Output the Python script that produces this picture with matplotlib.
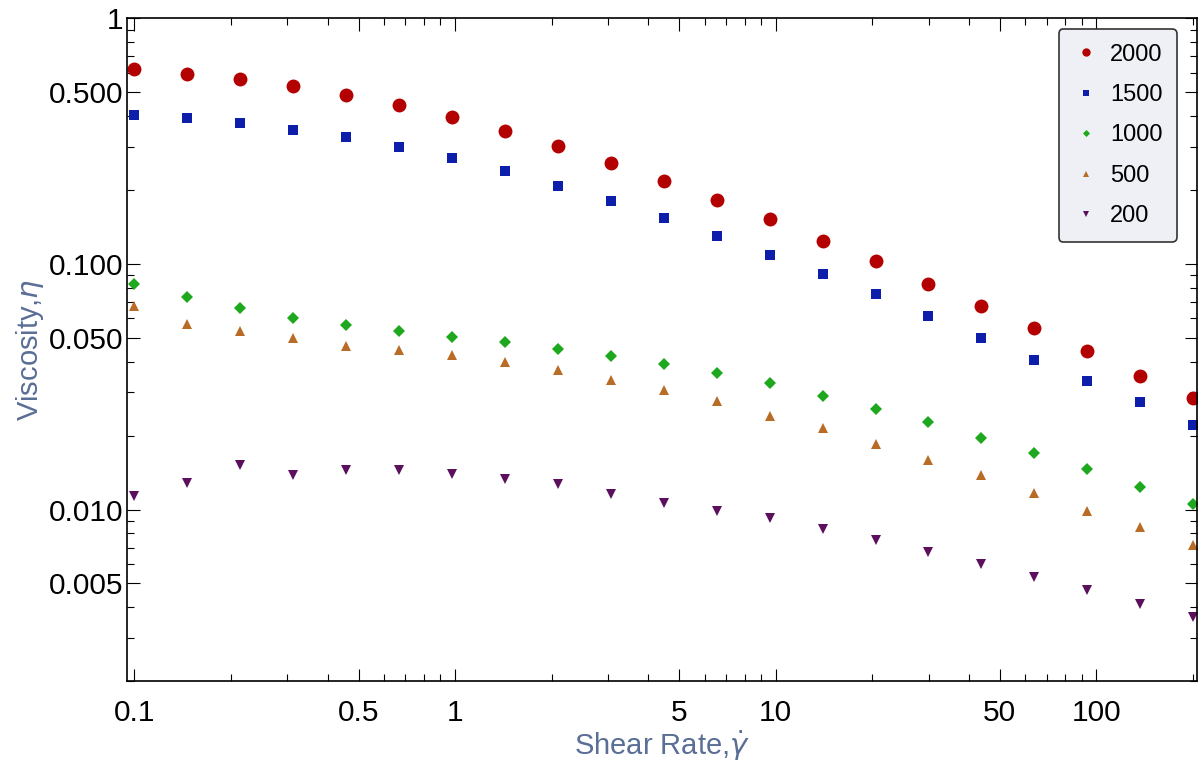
import matplotlib
matplotlib.use("Agg")
import matplotlib.pyplot as plt
from matplotlib.ticker import LogLocator, NullFormatter

plt.rcParams['font.family'] = ['Liberation Sans', 'DejaVu Sans']
plt.rcParams['mathtext.fontset'] = 'dejavusans'

# shear rate grid (log spaced from 0.1 to 200)
shear = [0.1, 0.146, 0.214, 0.313, 0.457, 0.669, 0.978, 1.43, 2.09, 3.06, 4.47,
         6.54, 9.57, 14.0, 20.5, 29.9, 43.8, 64.1, 93.7, 137, 200]

# viscosity
visc_2000 = [0.620, 0.591, 0.566, 0.530, 0.488, 0.442, 0.395, 0.348, 0.301, 0.257, 0.2175,
             0.1814, 0.1518, 0.1242, 0.1026, 0.0827, 0.0675, 0.0546, 0.0441, 0.0351, 0.0285]
visc_1500 = [0.405, 0.393, 0.375, 0.351, 0.3275, 0.299, 0.270, 0.2388, 0.2080, 0.1803, 0.1541,
             0.1298, 0.1086, 0.0909, 0.0751, 0.0613, 0.0500, 0.0408, 0.0333, 0.0273, 0.0221]
visc_1000 = [0.0825, 0.0730, 0.0659, 0.0603, 0.0563, 0.0532, 0.0503, 0.0482, 0.0450, 0.0421, 0.0390,
             0.0360, 0.0329, 0.0290, 0.0257, 0.0227, 0.0196, 0.0170, 0.0146, 0.0123, 0.0105]
visc_500 = [0.0673, 0.0568, 0.0534, 0.0497, 0.0463, 0.0448, 0.0424, 0.0397, 0.0370, 0.0338, 0.0308,
            0.0277, 0.0241, 0.0214, 0.0184, 0.0159, 0.0138, 0.0117, 0.0099, 0.0085, 0.0072]
visc_200 = [0.01136, 0.01283, 0.01515, 0.01376, 0.01446, 0.01446, 0.01392, 0.01337, 0.01268, 0.01162, 0.01061,
            0.00987, 0.00924, 0.00837, 0.00755, 0.00674, 0.00603, 0.00531, 0.00472, 0.00411, 0.00364]

labels = ['2000', '1500', '1000', '500', '200']
series = [visc_2000, visc_1500, visc_1000, visc_500, visc_200]
colors = ['#b30000', '#0d1eaa', '#1ea81e', '#b86c26', '#5c0f5c']
markers = ['o', 's', 'D', '^', 'v']
sizes = [10, 6.5, 6, 7, 7]

xticks = [0.1, 0.5, 1, 5, 10, 50, 100]
xtick_labels = ['0.1', '0.5', '1', '5', '10', '50', '100']
yticks = [0.005, 0.01, 0.05, 0.1, 0.5, 1]
ytick_labels = ['0.005', '0.010', '0.050', '0.100', '0.500', '1']

fig = plt.figure(figsize=(12, 7.62), dpi=100)
ax = fig.add_axes([0.106, 0.106, 0.8915, 0.87])

for ys, lab, c, m, s in zip(series, labels, colors, markers, sizes):
    ax.plot(shear, ys, linestyle='none', marker=m, color=c, markersize=s,
            markeredgewidth=0, label=lab)

ax.set_xscale('log')
ax.set_yscale('log')
ax.set_xlim(0.0949, 206)
ax.set_ylim(0.002, 1)

ax.set_xticks(xticks)
ax.set_xticklabels(xtick_labels)
ax.set_yticks(yticks)
ax.set_yticklabels(ytick_labels)
ax.xaxis.set_minor_locator(LogLocator(base=10, subs=range(2, 10)))
ax.yaxis.set_minor_locator(LogLocator(base=10, subs=range(2, 10)))
ax.xaxis.set_minor_formatter(NullFormatter())
ax.yaxis.set_minor_formatter(NullFormatter())

ax.tick_params(which='both', direction='in', top=True, right=True,
               labeltop=False, labelright=False, colors='black', width=0.8)
ax.tick_params(which='major', length=9, labelsize=21.5)
ax.tick_params(which='minor', length=5)
ax.tick_params(axis='x', which='major', pad=13)
ax.tick_params(axis='y', which='major', pad=3)
for sp in ax.spines.values():
    sp.set_linewidth(1.2)

label_color = '#5a6e96'
ax.set_xlabel(r'Shear Rate,$\dot{\gamma}$', fontsize=21, color=label_color, labelpad=1)
ax.set_ylabel(r'Viscosity,$\eta$', fontsize=21, color=label_color, labelpad=2)

leg = ax.legend(loc='upper right', bbox_to_anchor=(0.9813, 0.984), borderaxespad=0,
                fontsize=17, markerscale=0.6, handletextpad=0.45, borderpad=0.62,
                labelspacing=0.78, handlelength=1.1, fancybox=True, framealpha=1)
leg.get_frame().set_facecolor('#eef0f5')
leg.get_frame().set_edgecolor('#333333')
leg.get_frame().set_linewidth(1.2)

fig.savefig('out.png', dpi=100)
